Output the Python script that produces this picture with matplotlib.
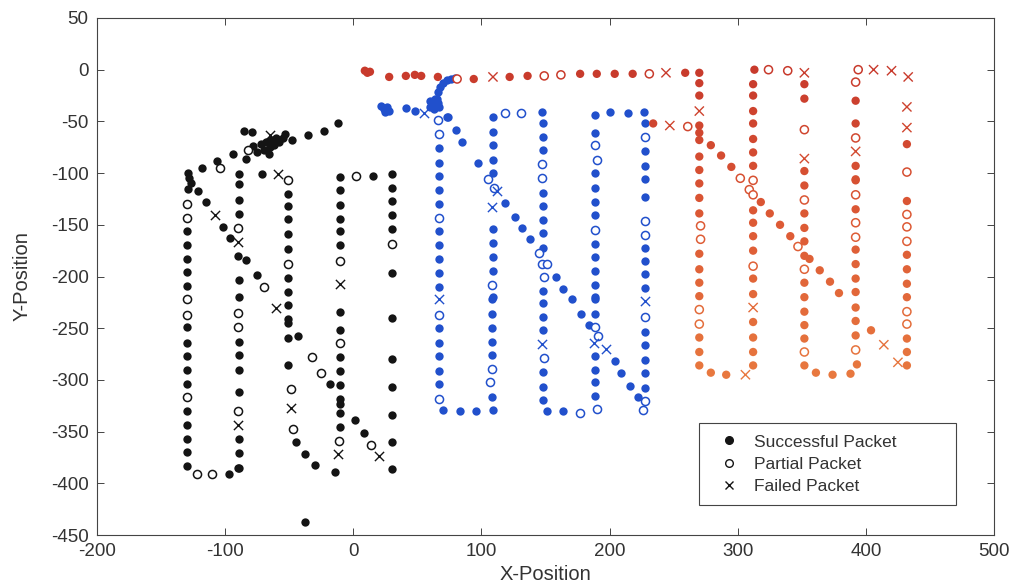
import numpy as np
import matplotlib
matplotlib.use("Agg")
import matplotlib.pyplot as plt
from matplotlib.lines import Line2D
from matplotlib.colors import LinearSegmentedColormap

plt.rcParams['font.family'] = ['Liberation Sans', 'DejaVu Sans']
plt.rcParams['axes.unicode_minus'] = False

# ---- node 1 (black) ----
blk_ok_x = [-12, -23, -35, -48, -53, -85, -79, -84, -94, -106, -118, -129, -128, -127, -129, -121,
            -72, -68, -65, -62, -58, -70, -75, -60, -55, -66, -64, -78,
            -130, -130, -130, -130, -130, -130, -130, -130, -130, -130, -130, -130, -130, -130, -130,
            -97, -90,
            -89, -89, -89, -89, -90, -84, -89, -89, -89, -89, -89, -89, -89, -89, -89,
            -71,
            -51, -51, -51, -51, -51, -51, -51, -51, -51, -51, -51, -51,
            -115, -102, -96, -75, -43, -18, -10, 1, 8, -45, -38, -30,
            -10, -10, -10, -10, -10, -10, -10, -10, -10, -10, -10, -10, -10, -10, -14,
            15,
            30, 30, 30, 30, 30, 30, 30, 30, 30, 30, 30, 30,
            -38]
blk_ok_y = [-52, -59, -63, -68, -62, -59, -60, -86, -82, -88, -95, -100, -105, -110, -115, -117,
            -72, -70, -75, -73, -70, -78, -80, -66, -66, -82, -68, -74,
            -156, -170, -183, -196, -209, -249, -264, -277, -290, -304, -330, -344, -357, -370, -383,
            -391, -385,
            -101, -111, -126, -140, -180, -184, -203, -220, -263, -276, -290, -312, -357, -371, -385,
            -101,
            -120, -132, -144, -159, -173, -201, -215, -228, -241, -245, -259, -286,
            -128, -152, -163, -199, -258, -304, -323, -339, -351, -360, -372, -382,
            -104, -116, -131, -144, -156, -170, -234, -252, -278, -291, -305, -318, -332, -346, -389,
            -103,
            -101, -114, -127, -141, -154, -197, -240, -280, -307, -334, -360, -386,
            -437]
blk_part_x = [-82, -104, -130, -130, -130, -130, -130, -122, -110, -90, -90, -90, -90, -51, -51,
              -49, -47, -70, -32, -25, 14, 2, -10, -10, -11, 30]
blk_part_y = [-78, -95, -130, -143, -222, -237, -317, -391, -391, -153, -235, -249, -330, -107, -188,
              -309, -347, -210, -278, -293, -363, -103, -185, -264, -359, -169]
blk_fail_x = [-65, -108, -90, -59, -60, -49, -90, -10, -12, 20]
blk_fail_y = [-63, -141, -167, -101, -230, -327, -344, -207, -372, -374]

# ---- node 2 (blue) ----
blu_ok_x = [22, 24, 26, 28, 25, 41, 48, 60, 62, 64, 66, 63, 60, 67, 65, 66, 68, 70, 73, 76, 79, 73,
            67, 67, 67, 67, 67, 67, 67, 67, 67, 67, 67, 67, 67, 67, 67,
            70, 83, 96, 109,
            108, 108, 108, 108, 108, 108, 109, 109, 109, 109, 109, 109, 109, 109, 109, 109,
            147,
            148, 148, 148, 148, 148, 148, 148, 148, 148, 148, 148, 148, 148, 148, 148,
            151, 164,
            189, 189, 189, 189, 189, 189, 189, 189, 189, 189, 189, 189, 189, 189, 189, 189, 189,
            200, 214, 227,
            228, 228, 228, 228, 228, 228, 228, 228, 228, 228, 228, 228, 228, 228,
            74, 80, 85, 97, 118, 126, 132, 138, 158, 164, 171, 178, 184, 204, 209, 216, 222]
blu_ok_y = [-35, -38, -36, -40, -41, -37, -40, -30, -34, -28, -32, -38, -36, -36, -28, -22, -17, -13, -10, -9, -8, -46,
            -76, -90, -103, -116, -130, -156, -170, -183, -197, -210, -250, -264, -277, -291, -304,
            -329, -330, -330, -329,
            -317, -276, -263, -250, -236, -222, -46, -60, -73, -87, -100, -154, -168, -181, -195, -220,
            -41,
            -52, -65, -78, -119, -132, -145, -158, -172, -214, -226, -239, -252, -292, -307, -319,
            -330, -330,
            -316, -302, -290, -277, -236, -222, -44, -61, -100, -114, -128, -141, -169, -181, -195, -208, -220,
            -41, -42, -41,
            -52, -79, -93, -106, -123, -172, -185, -198, -211, -254, -266, -281, -293, -308,
            -46, -58, -70, -90, -129, -142, -153, -164, -200, -212, -222, -236, -247, -282, -293, -306, -317]
blu_part_x = [66, 67, 67, 67, 67, 107, 108, 105, 110, 108, 118, 131, 147, 147, 147, 151, 149, 149,
              177, 190, 191, 189, 189, 190, 189, 228, 228, 228, 228, 228, 226, 145]
blu_part_y = [-49, -62, -143, -237, -318, -302, -289, -106, -114, -208, -42, -42, -91, -105, -188, -188, -200, -279,
              -332, -328, -258, -249, -73, -87, -155, -65, -146, -160, -239, -320, -329, -177]
blu_fail_x = [55, 67, 112, 108, 147, 188, 197, 228]
blu_fail_y = [-42, -222, -117, -133, -265, -264, -270, -224]

# ---- node 3 (red / orange) ----
red_ok_x = [11, 9, 13, 28, 41, 48, 53, 66, 94, 122, 136, 177, 190, 204, 218, 259, 270,
            270, 270, 270, 270, 270, 270, 270, 270, 270, 270, 270, 270, 270, 270, 270, 270, 270,
            279, 291, 312,
            312, 312, 312, 312, 312, 312, 312, 312, 312, 313, 312, 312, 312, 312, 312, 312, 312,
            352, 352, 352, 352, 352, 352, 352, 352, 352, 352, 352, 352, 352, 352,
            361, 374, 388, 393,
            392, 392, 392, 392, 392, 392, 392, 392, 392, 392, 392, 392, 392,
            432, 432, 432, 432, 432, 432, 432, 432, 432,
            234, 279, 287, 295, 318, 325, 333, 341, 356, 364, 372, 379, 404]
red_ok_y = [-3, -1, -2, -7, -6, -5, -6, -7, -9, -7, -6, -4, -4, -4, -4, -3, -3,
            -13, -25, -54, -61, -68, -84, -97, -110, -124, -139, -178, -193, -206, -219, -259, -273, -286,
            -293, -295, -286,
            -273, -259, -244, -217, -202, -175, -161, -148, -136, 0, -14, -25, -40, -52, -67, -80, -93,
            -14, -28, -98, -112, -139, -153, -166, -180, -206, -220, -234, -247, -260, -286,
            -293, -295, -294, -285,
            -257, -243, -230, -215, -202, -188, -174, -135, -107, -30, -52, -93, -106,
            -72, -127, -179, -193, -207, -220, -260, -273, -286,
            -52, -73, -83, -94, -128, -139, -150, -161, -183, -194, -205, -216, -252]
red_part_x = [81, 149, 162, 231, 324, 339, 394, 261,
              271, 271, 270, 270,
              302, 312, 309, 312, 312,
              352, 352, 352, 352, 347,
              392, 392, 392, 392, 392, 392,
              432, 432, 432, 432, 432, 432]
red_part_y = [-9, -6, -5, -4, 0, -1, 0, -55,
              -151, -164, -232, -246,
              -105, -107, -116, -121, -190,
              -58, -126, -193, -273, -171,
              -12, -66, -121, -148, -162, -271,
              -99, -140, -152, -166, -234, -246]
red_fail_x = [109, 244, 247, 270, 306, 312, 352, 352, 392, 406, 420, 433, 432, 432, 414, 425]
red_fail_y = [-7, -3, -54, -40, -295, -230, -3, -86, -79, 0, -1, -7, -36, -56, -266, -283]

BLACK = '#141414'
BLUE = '#2150cc'
red_cmap = LinearSegmentedColormap.from_list('redorange', ['#e8793f', '#dd5a35', '#c83a2c'])

fig = plt.figure(figsize=(10.19, 5.88), dpi=100)
ax = fig.add_axes([0.0952, 0.0901, 0.8803, 0.8793])

S_OK, S_OPEN, S_X = 36, 34, 44


def draw_group(ok_x, ok_y, pt_x, pt_y, fl_x, fl_y, col_ok, col_pt, col_fl):
    ax.scatter(ok_x, ok_y, s=S_OK, c=col_ok, marker='o', linewidths=0, zorder=3)
    ax.scatter(pt_x, pt_y, s=S_OPEN, facecolors='white', edgecolors=col_pt, marker='o',
               linewidths=1.1, zorder=3)
    ax.scatter(fl_x, fl_y, s=S_X, c=col_fl, marker='x', linewidths=1.0, zorder=3)


def red_col(yv):
    return red_cmap(np.clip((np.array(yv) + 300) / 300.0, 0, 1))


draw_group(blk_ok_x, blk_ok_y, blk_part_x, blk_part_y, blk_fail_x, blk_fail_y, BLACK, BLACK, BLACK)
draw_group(blu_ok_x, blu_ok_y, blu_part_x, blu_part_y, blu_fail_x, blu_fail_y, BLUE, BLUE, BLUE)
draw_group(red_ok_x, red_ok_y, red_part_x, red_part_y, red_fail_x, red_fail_y,
           red_col(red_ok_y), red_col(red_part_y), red_col(red_fail_y))

ax.set_xlim(-200, 500)
ax.set_ylim(-450, 50)
ax.set_xticks(np.arange(-200, 501, 100))
ax.set_yticks(np.arange(-450, 51, 50))
ax.tick_params(direction='in', top=True, right=True, length=5, width=0.7, pad=6,
               labelsize=13.5, labelcolor='#333333', color='#444444')
for sp in ax.spines.values():
    sp.set_linewidth(0.8)
    sp.set_color('#444444')
ax.set_xlabel('X-Position', fontsize=14.5, color='#333333', labelpad=3)
ax.set_ylabel('Y-Position', fontsize=14.5, color='#333333', labelpad=14)

handles = [
    Line2D([], [], linestyle='none', marker='o', markersize=5.5, color=BLACK),
    Line2D([], [], linestyle='none', marker='o', markersize=5.5, markerfacecolor='white',
           markeredgecolor=BLACK, markeredgewidth=1.0),
    Line2D([], [], linestyle='none', marker='x', markersize=6, color=BLACK, markeredgewidth=1.0),
]
leg = ax.legend(handles, ['Successful Packet', 'Partial Packet', 'Failed Packet'],
                loc='lower left', bbox_to_anchor=(0.671, 0.058, 0.287, 0.168), mode='expand',
                fontsize=12.5, frameon=True, fancybox=False, edgecolor='#444444', framealpha=1,
                borderpad=0.65, labelspacing=0.4, handlelength=2.2, handletextpad=0.35,
                borderaxespad=0)
leg.get_frame().set_linewidth(0.8)
for t in leg.get_texts():
    t.set_color('#333333')

fig.savefig('out.png', dpi=100)
